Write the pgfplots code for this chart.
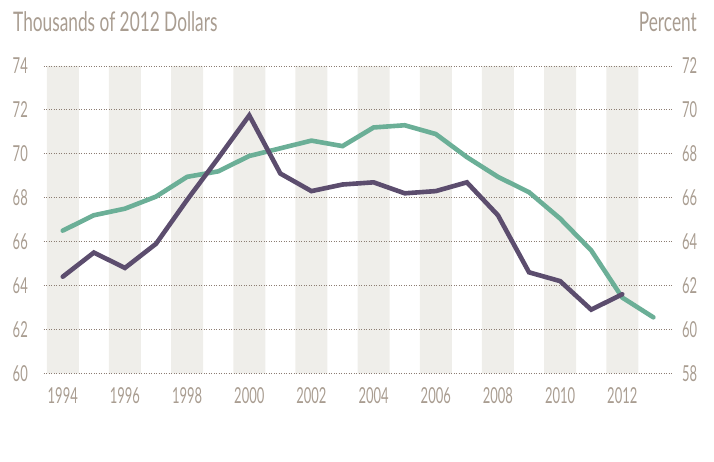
\documentclass[border=0pt]{standalone}
\usepackage{fontspec}
\setmainfont[FakeStretch=0.59]{Lato}
\newfontfamily\titlefont[FakeStretch=0.64]{Lato}
\usepackage{pgfplots}
\pgfplotsset{compat=1.18}
\definecolor{purp}{HTML}{5C4D6E}
\definecolor{grn}{HTML}{6BAF97}
\definecolor{bandc}{HTML}{EFEEEA}
\definecolor{txt}{HTML}{A99D91}
\definecolor{gridc}{HTML}{8C7D73}
\begin{document}
\begin{tikzpicture}[x=1pt,y=1pt]
\pgfplotsset{
  common/.style={
    scale only axis, width=628.5pt, height=307.3pt,
    at={(43.5pt,88.7pt)}, anchor=south west,
    xmin=1993.38, xmax=2013.6,
    axis line style={draw=none}, major tick length=0pt,
    tick style={draw=none},
    /pgf/number format/assume math mode=true,
    /pgf/number format/1000 sep={},
    ticklabel style={font=\fontsize{22}{22}\selectfont, text=txt, inner sep=0pt},
  }
}
\begin{axis}[common, set layers=standard, clip mode=individual,
  ymin=58, ymax=72, ytick={58,60,...,72}, yticklabel pos=right,
  yticklabel style={anchor=west, xshift=10pt},
  xtick={1994,1996,...,2012},
  xticklabel style={anchor=north, yshift=-14.2pt},
  ymajorgrids, grid style={gridc, line width=0.9pt, dash pattern=on 0.9pt off 1.6pt},
]
\addplot[ybar, bar width=32pt, bar shift=0pt, fill=bandc, draw=none, on layer=axis background]
  coordinates {(1994,72) (1996,72) (1998,72) (2000,72) (2002,72) (2004,72) (2006,72) (2008,72) (2010,72) (2012,72)};
\addplot[grn, line width=4.6pt, line join=miter, line cap=round, mark=none] coordinates {
(1994,64.5) (1995,65.2) (1996,65.5) (1997,66.05) (1998,66.95) (1999,67.2) (2000,67.9)
(2001,68.25) (2002,68.6) (2003,68.35) (2004,69.2) (2005,69.3) (2006,68.9) (2007,67.85)
(2008,66.95) (2009,66.25) (2010,65.05) (2011,63.6) (2012,61.45) (2013,60.55)};
\end{axis}
\begin{axis}[common,
  ymin=60, ymax=74, ytick={60,62,...,74}, yticklabel pos=left,
  yticklabel style={anchor=east, xshift=-15.5pt},
  xtick=\empty,
]
\addplot[purp, line width=4.6pt, line join=miter, line cap=round, mark=none] coordinates {
(1994,64.4) (1995,65.5) (1996,64.8) (1997,65.9) (1998,67.9) (1999,69.8) (2000,71.75)
(2001,69.1) (2002,68.3) (2003,68.6) (2004,68.7) (2005,68.2) (2006,68.3) (2007,68.7)
(2008,67.2) (2009,64.6) (2010,64.2) (2011,62.9) (2012,63.6)};
\end{axis}
\node[anchor=base west, inner sep=0pt, text=txt, font=\titlefont\fontsize{27}{27}\selectfont] at (13,430.3) {Thousands of 2012 Dollars};
\node[anchor=base east, inner sep=0pt, text=txt, font=\titlefont\fontsize{27}{27}\selectfont] at (697,430.3) {Percent};
\pgfresetboundingbox
\path[use as bounding box] (0,0) rectangle (714,462);
\end{tikzpicture}
\end{document}
